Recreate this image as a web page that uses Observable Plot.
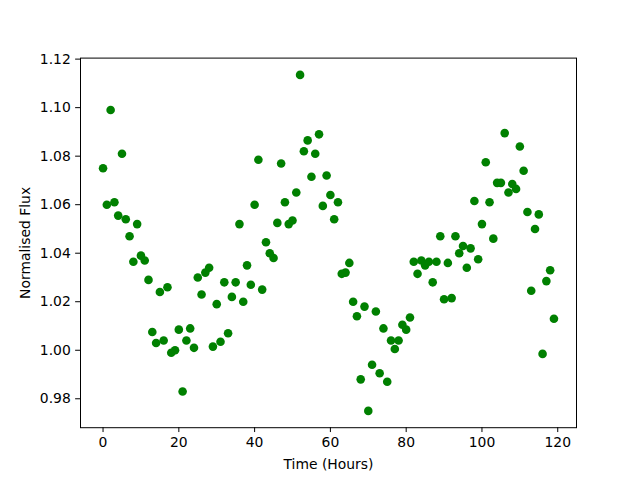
<!DOCTYPE html>
<html>
<head>
<meta charset="utf-8">
<script src="https://cdn.jsdelivr.net/npm/d3@7"></script>
<script src="https://cdn.jsdelivr.net/npm/@observablehq/plot@0.6"></script>
<style>
  html, body { margin: 0; padding: 0; background: #fff; }
  #chart { width: 640px; height: 480px; }
</style>
</head>
<body>
<div id="chart"></div>
<script>
// Time in hours (one observation per hour)
const hours = d3.range(0, 120);
// Normalised flux values
const flux = [
  1.075, 1.060, 1.099, 1.061, 1.0555, 1.081, 1.054, 1.047, 1.0365, 1.052,
  1.039, 1.037, 1.029, 1.0075, 1.003, 1.024, 1.004, 1.026, 0.999, 1.000,
  1.0085, 0.983, 1.004, 1.009, 1.001, 1.030, 1.023, 1.032, 1.034, 1.0015,
  1.019, 1.0035, 1.028, 1.007, 1.022, 1.028, 1.052, 1.020, 1.035, 1.027,
  1.060, 1.0785, 1.025, 1.0445, 1.040, 1.038, 1.0525, 1.077, 1.061, 1.052,
  1.0535, 1.065, 1.1135, 1.082, 1.0865, 1.0715, 1.081, 1.089, 1.0595, 1.072,
  1.064, 1.054, 1.061, 1.0315, 1.032, 1.036, 1.020, 1.014, 0.988, 1.018,
  0.975, 0.994, 1.016, 0.9905, 1.009, 0.987, 1.004, 1.0005, 1.004, 1.0105,
  1.0085, 1.0135, 1.0365, 1.0315, 1.037, 1.035, 1.0365, 1.028, 1.0365, 1.047,
  1.021, 1.036, 1.0215, 1.047, 1.040, 1.043, 1.034, 1.042, 1.0615, 1.0375,
  1.052, 1.0775, 1.061, 1.046, 1.069, 1.069, 1.0895, 1.065, 1.0685, 1.0665,
  1.084, 1.074, 1.057, 1.0245, 1.050, 1.056, 0.9985, 1.0285, 1.033, 1.013
];
const xTicks = [0, 20, 40, 60, 80, 100, 120];
const yTicks = [0.98, 1.00, 1.02, 1.04, 1.06, 1.08, 1.10, 1.12];

const data = hours.map((h, i) => ({time: h, flux: flux[i]}));

const chart = Plot.plot({
  width: 640,
  height: 480,
  marginLeft: 80,
  marginRight: 64,
  marginTop: 57.6,
  marginBottom: 52.8,
  style: {
    fontFamily: "'DejaVu Sans', sans-serif",
    fontSize: "13.9px",
    color: "#000",
    background: "#fff",
    overflow: "visible"
  },
  x: {domain: [-5.95, 124.95]},
  y: {domain: [0.96808, 1.12042]},
  marks: [
    Plot.frame({stroke: "#000", strokeWidth: 1}),
    Plot.dot(data, {x: "time", y: "flux", r: 4.3, fill: "#008000", stroke: "none"}),
    Plot.axisX(xTicks, {
      tickSize: 4.86, tickPadding: 4.86, strokeWidth: 1,
      label: "Time (Hours)", labelAnchor: "center", labelArrow: "none", labelOffset: 41,
      fontSize: 13.9
    }),
    Plot.axisY(yTicks, {
      tickSize: 4.86, tickPadding: 4.86, strokeWidth: 1,
      tickFormat: d3.format(".2f"),
      label: "Normalised Flux", labelAnchor: "center", labelArrow: "none", labelOffset: 60,
      fontSize: 13.9
    })
  ]
});
document.getElementById("chart").appendChild(chart);
</script>
</body>
</html>
